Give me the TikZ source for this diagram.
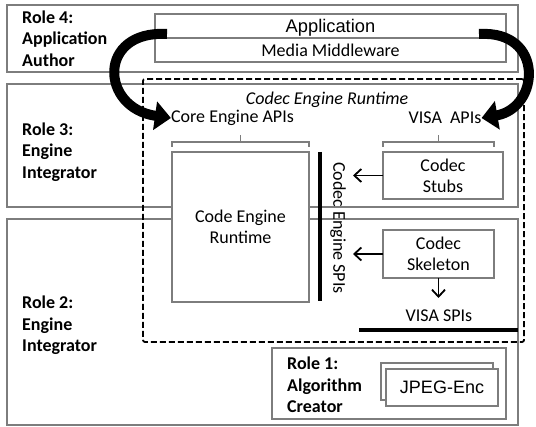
\documentclass[tikz,border=0pt]{standalone}
\usepackage{fontspec}
\setmainfont{Carlito}
\newfontfamily\arialf{Liberation Sans}
\usetikzlibrary{arrows.meta}
\definecolor{boxgray}{RGB}{125,125,125}
\begin{document}
\begin{tikzpicture}[x=1pt,y=-1pt,
  rolebox/.style={draw=boxgray,line width=1.3pt,inner sep=0pt,outer sep=0pt},
  graybox/.style={draw=boxgray,line width=1.3pt,fill=white,inner sep=0pt,outer sep=0pt,font=\fontsize{18}{21}\selectfont,align=center},
  rolelabel/.style={font=\fontsize{18}{21.5}\selectfont\bfseries,align=left,anchor=west,inner sep=0pt},
  txt/.style={font=\fontsize{18}{21}\selectfont,align=center,inner sep=0pt},
  thinarrow/.style={line width=1.8pt,-{Straight Barb[length=7pt,width=13pt]}},
  bigarrow/.style={line width=10pt,-{Triangle[length=16pt,width=28pt]}},
  bar/.style={line width=4pt},
  bracket/.style={draw=boxgray,line width=1.2pt},
  dashbox/.style={draw=black,line width=1.8pt,dash pattern=on 6pt off 3pt,inner sep=0pt,outer sep=0pt}
]
\useasboundingbox (0,0) rectangle (536,427);
% role boxes
\node[rolebox,minimum width=511pt,minimum height=67pt] (role4) at (262.5,38.5) {};
\node[rolebox,minimum width=511pt,minimum height=123pt] (role3) at (262.5,145.5) {};
\node[rolebox,minimum width=511pt,minimum height=206pt] (role2) at (262.5,322) {};
\node[rolebox,minimum width=234pt,minimum height=71pt] (role1) at (389,383.5) {};
% role labels
\node[rolelabel] (r4) at (22,38.5) {Role 4:\\Application\\Author};
\node[rolelabel] (r3) at (22,152) {Role 3:\\Engine\\Integrator};
\node[rolelabel] (r2) at (22,325.5) {Role 2:\\Engine\\Integrator};
\node[rolelabel] (r1) at (287,385) {Role 1:\\Algorithm\\Creator};
% application box
\node[rolebox,minimum width=351pt,minimum height=48pt] (app) at (330.5,38) {};
\draw[boxgray,line width=1.3pt] (app.west) -- (app.east);
\node[txt,font=\arialf\fontsize{18.3}{21}\selectfont] (apptxt) at (330.5,27.5) {Application};
\node[txt] (mmw) at (330.5,50) {Media Middleware};
% dashed runtime box
\node[dashbox,minimum width=381pt,minimum height=263pt,rounded corners=2pt] (rt) at (333.5,210.5) {};
\node[txt,font=\fontsize{18}{21}\selectfont\itshape] (rttxt) at (327,100) {Codec Engine Runtime};
\node[txt] (coreapi) at (232.5,118) {Core Engine APIs};
\node[txt] (visaapi) at (445,118) {VISA~~APIs};
% brackets
\draw[bracket] (172,147) -- (172,142) -- (309,142) -- (309,147);
\draw[bracket] (240.5,142) -- (240.5,135);
\draw[bracket] (383,147) -- (383,142) -- (494,142) -- (494,147);
\draw[bracket] (438.5,142) -- (438.5,135);
% core engine
\node[graybox,minimum width=137pt,minimum height=150pt] (core) at (240.5,227) {Code Engine\\Runtime};
% SPI bars
\draw[bar] (320,152) -- (320,301);
\node[txt,rotate=-90] (cespi) at (338,228) {Codec Engine SPIs};
\draw[bar] (359,330) -- (518,330);
\node[txt] (visaspi) at (439,316) {VISA SPIs};
% codec boxes
\node[graybox,minimum width=120pt,minimum height=47pt] (stubs) at (443,175.5) {Codec\\Stubs};
\node[graybox,minimum width=111pt,minimum height=48pt] (skel) at (438.5,254) {Codec\\Skeleton};
\coordinate (sa) at (353,175.5);
\coordinate (ka) at (353,254);
\coordinate (da) at (438.5,298);
\draw[thinarrow] (stubs.west) -- (sa);
\draw[thinarrow] (skel.west) -- (ka);
\draw[thinarrow] (skel.south) -- (da);
% JPEG-Enc
\node[graybox,minimum width=112pt,minimum height=37pt] (jb) at (437,381.5) {};
\node[graybox,minimum width=112pt,minimum height=37pt,font=\arialf\fontsize{18}{21}\selectfont] (jf) at (442,387.5) {JPEG-Enc};
% big curved arrows
\coordinate (ls) at (167,34);
\coordinate (rs) at (479,34);
\draw[bigarrow] (ls) .. controls (97,30) and (100,108) .. (coreapi.west);
\draw[bigarrow] (rs) .. controls (545,30) and (540,108) .. (visaapi.east);
\end{tikzpicture}
\end{document}
